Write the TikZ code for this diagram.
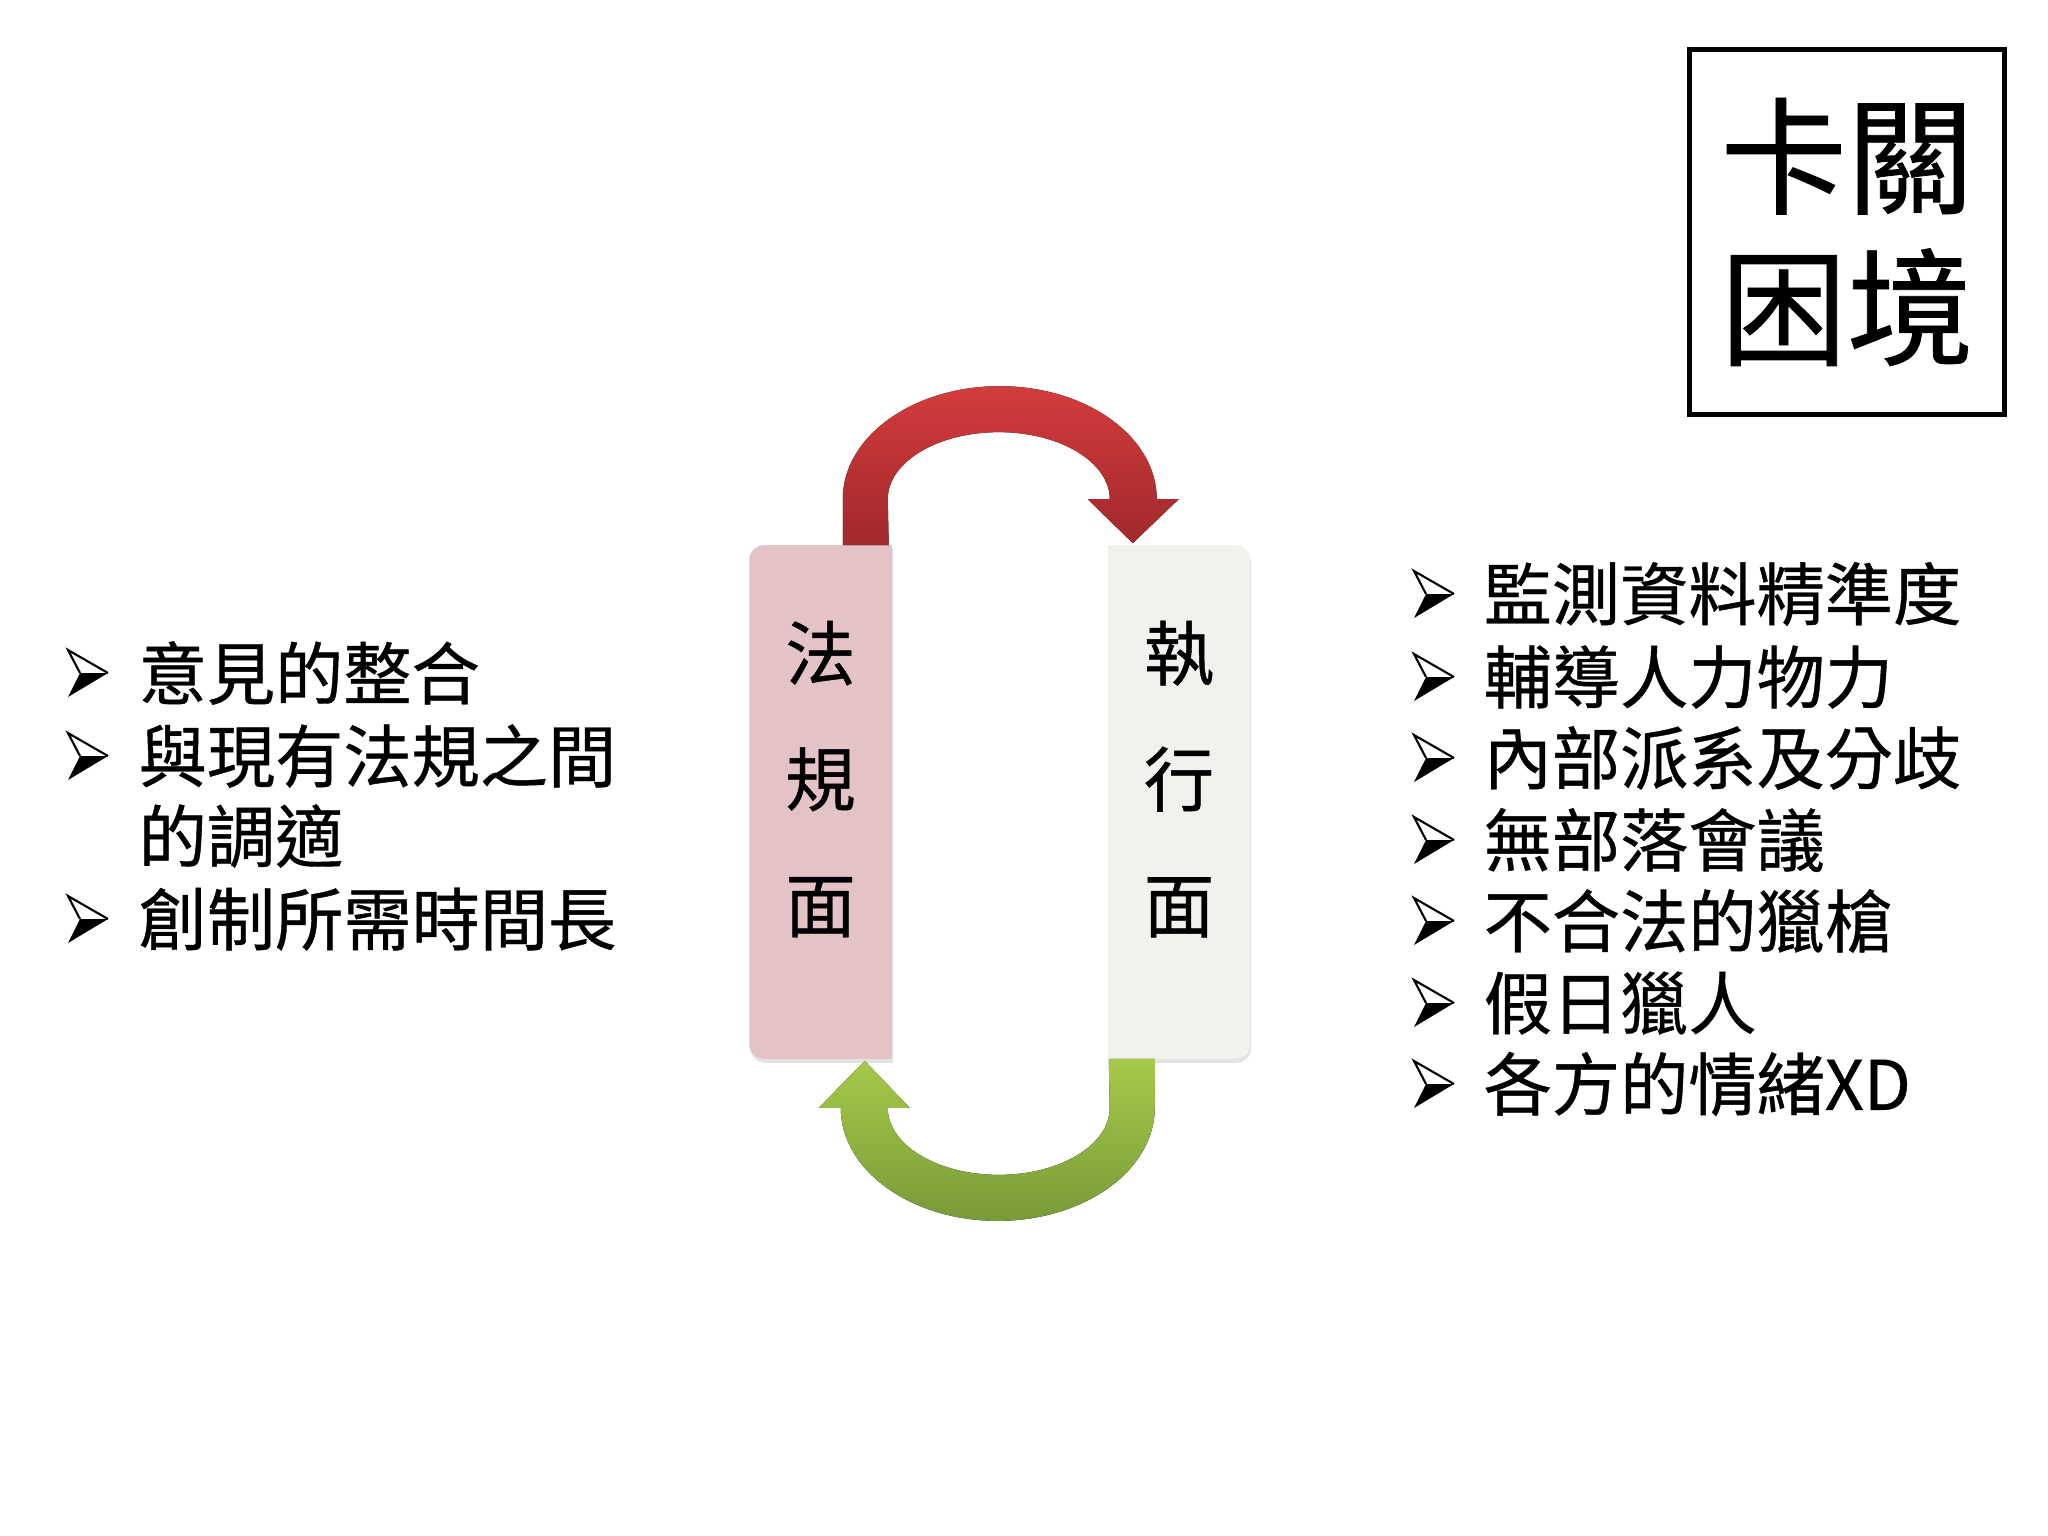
\documentclass[tikz,border=0pt]{standalone}
\usepackage{fontspec}
\setmainfont{Noto Sans CJK TC}[RawFeature={embolden=0.6}]
\usepackage{tikz}
\usetikzlibrary{calc,shadows}
\usepackage{xcolor}
\definecolor{lawPink}{RGB}{227,195,198}
\definecolor{execGray}{RGB}{240,242,238}
\definecolor{redTop}{RGB}{212,60,60}
\definecolor{redBot}{RGB}{160,40,44}
\definecolor{greenTop}{RGB}{166,202,72}
\definecolor{greenBot}{RGB}{120,155,58}

\tikzset{
  listtext/.style={anchor=west, inner sep=0pt, font=\fontsize{19.4}{22.8}\selectfont},
  sidebox/.style={minimum width=1.41cm, minimum height=5.12cm, inner sep=0pt},
  boxshadow/.style={drop shadow={shadow xshift=0.01cm, shadow yshift=-0.04cm,
                    opacity=0.18, fill=black!60}},
  boxtext/.style={inner sep=0pt, align=center, font=\fontsize{20}{35.8}\selectfont},
  % 3-D arrowhead bullet, origin at its left middle
  arrowmark/.pic={
    \fill[black] (12,0) -- (40,0) -- (0,-24) -- cycle;
    \draw[line width=0.6pt, line join=miter] (12,0) -- (0,23) -- (40,0);
  },
}

\begin{document}
\begin{tikzpicture}[x=0.01cm, y=0.01cm]
  \useasboundingbox[fill=white] (0,0) rectangle (2048,-1536);
  % Title
  \node[draw, line width=1.4pt, minimum width=3.14cm, minimum height=3.64cm,
        inner sep=0pt, align=center, font=\fontsize{36}{43}\selectfont]
    (title) at (1847,-232) {卡關\\困境};
  % Two sides (rounded on the outer side only)
  \node[sidebox] (law) at (820.5,-802) {};
  \node[sidebox] (exec) at (1179,-802) {};
  \fill[lawPink, boxshadow] (law.north east)
    -- ($(law.north west)+(15,0)$) arc[start angle=90, end angle=180, radius=15]
    -- ($(law.south west)+(0,15)$) arc[start angle=180, end angle=270, radius=15]
    -- (law.south east) -- cycle;
  \fill[execGray, boxshadow] (exec.north west)
    -- ($(exec.north east)+(-15,0)$) arc[start angle=90, end angle=0, radius=15]
    -- ($(exec.south east)+(0,15)$) arc[start angle=0, end angle=-90, radius=15]
    -- (exec.south west) -- cycle;
  \node[boxtext] (lawtext) at ($(law.center)+(0,23)$) {法\\規\\面};
  \node[boxtext] (exectext) at ($(exec.center)+(0,23)$) {執\\行\\面};
  % Red arrow: law -> exec
  \coordinate (redfoot) at ($(law.north east)+(-26,0)$);
  \coordinate (redtip) at ($(exec.north west)+(25,2)$);
  \fill[top color=redTop, bottom color=redBot]
    ($(redfoot)+(-23,0)$) -- ++(0,46)
    arc[start angle=180, end angle=0, x radius=157, y radius=113]
    -- ++(22,0) -- (redtip) -- ++(-45,44) -- ++(22,0)
    arc[start angle=0, end angle=180, x radius=111, y radius=67]
    -- ($(redfoot)+(23,0)$) -- cycle;
  % Green arrow: exec -> law
  \coordinate (greenfoot) at ($(exec.south west)+(24,0)$);
  \coordinate (greentip) at ($(law.south east)+(-27,-2)$);
  \fill[top color=greenTop, bottom color=greenBot]
    ($(greenfoot)+(23,0)$) -- ++(0,-49)
    arc[start angle=0, end angle=-180, x radius=157, y radius=113]
    -- ++(-22,0) -- (greentip) -- ++(45,-47) -- ++(-22,0)
    arc[start angle=180, end angle=360, x radius=111, y radius=67]
    -- ($(greenfoot)+(-23,0)$) -- cycle;
  % Left list
  \pic (lb1) at (68,-673) {arrowmark};
  \node[listtext] (li1) at (138,-673) {意見的整合};
  \pic (lb2) at (68,-756) {arrowmark};
  \node[listtext] (li2) at (138,-756) {與現有法規之間};
  \node[listtext] (li2b) at (138,-836) {的調適};
  \pic (lb3) at (68,-919) {arrowmark};
  \node[listtext] (li3) at (138,-919) {創制所需時間長};
  % Right list
  \pic (rb1) at (1414,-594) {arrowmark};
  \node[listtext] (ri1) at (1483,-594) {監測資料精準度};
  \pic (rb2) at (1414,-677) {arrowmark};
  \node[listtext] (ri2) at (1483,-677) {輔導人力物力};
  \pic (rb3) at (1414,-758) {arrowmark};
  \node[listtext] (ri3) at (1483,-758) {內部派系及分歧};
  \pic (rb4) at (1414,-840) {arrowmark};
  \node[listtext] (ri4) at (1483,-840) {無部落會議};
  \pic (rb5) at (1414,-921) {arrowmark};
  \node[listtext] (ri5) at (1483,-921) {不合法的獵槍};
  \pic (rb6) at (1414,-1003) {arrowmark};
  \node[listtext] (ri6) at (1483,-1003) {假日獵人};
  \pic (rb7) at (1414,-1084) {arrowmark};
  \node[listtext] (ri7) at (1483,-1084) {各方的情緒XD};
\end{tikzpicture}
\end{document}
